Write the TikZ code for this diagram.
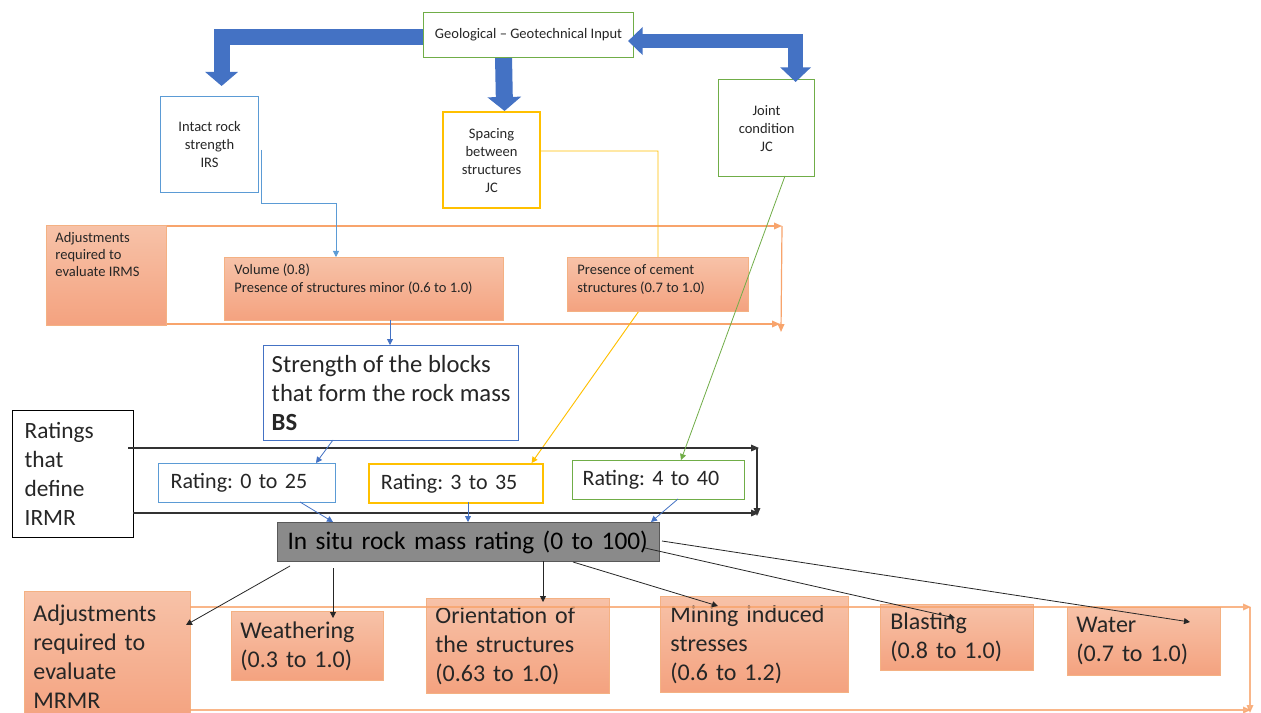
\documentclass[tikz,border=0pt]{standalone}
\usepackage{fontspec}
\setmainfont{Carlito}
\frenchspacing
\usetikzlibrary{arrows.meta,calc}
\definecolor{bigblue}{HTML}{4472C4}
\definecolor{lblue}{HTML}{5B9BD5}
\definecolor{dblue}{HTML}{4472C4}
\definecolor{yel}{HTML}{FFC000}
\definecolor{grn}{HTML}{70AD47}
\definecolor{orT}{HTML}{F7C2A8}
\definecolor{orB}{HTML}{F4A27F}
\definecolor{orL}{HTML}{F4B183}
\definecolor{orLine}{HTML}{F8A46C}
\definecolor{txt}{HTML}{262626}
\definecolor{grayF}{HTML}{8A8A8A}
\definecolor{grayD}{HTML}{595959}
\begin{document}
\begin{tikzpicture}[x=0.75pt,y=-0.75pt,
  nb/.style={anchor=north west, inner ysep=0pt, text=txt},
  small/.style={font=\fontsize{10.9}{13.5}\selectfont\frenchspacing},
  bigf/.style={font=\fontsize{#1}{21.75}\selectfont\frenchspacing},
  obox/.style={draw=orL, line width=0.6pt, top color=orT, bottom color=orB},
  tip/.style={-{Triangle[length=4.5pt,width=4.5pt]}},
  conn/.style={line width=0.6pt, tip},
  band/.style={line width=0.9pt, orLine, -{Triangle[length=6pt,width=5pt]}},
  kband/.style={line width=0.8pt, black!80, -{Triangle[length=6pt,width=5pt]}},
]
\useasboundingbox (0,0) rectangle (1261,713);
\clip (0,0) rectangle (1261,713);
\fill[white] (0,0) rectangle (1261,713);

% ---------- top boxes ----------
\node[nb, small, draw=grn, line width=0.8pt, minimum width=157.5pt, minimum height=33.75pt, align=center] (geo) at (423,12) {Geological -- Geotechnical Input};
\node[nb, small, draw=lblue, line width=0.9pt, minimum width=73.5pt, minimum height=72pt, align=center] (irs) at (160,96) {Intact rock\\strength\\IRS};
\node[nb, small, draw=yel, line width=1.6pt, minimum width=72.75pt, minimum height=72pt, align=center] (spc) at (442,111) {Spacing\\between\\structures\\JC};
\node[nb, small, draw=grn, line width=0.9pt, minimum width=72pt, minimum height=72.75pt, align=center] (joint) at (718,79) {Joint\\condition\\JC};

% ---------- big blue arrows ----------
\draw[bigblue, line width=12pt, -{Triangle[width=24pt,length=10.5pt]}]
  ($(geo.west)+(0,1.5)$) -| ($(irs.north)+(12,-10)$);
\draw[bigblue, line width=12.75pt, -{Triangle[width=24.75pt,length=10.5pt]}]
  ($(geo.south)+(-25,0)$) -- ($(spc.north)+(13,0)$);
\draw[bigblue, line width=11pt, {Triangle[width=20.5pt,length=11pt]}-{Triangle[width=22.5pt,length=11pt]}]
  ($(geo.east)+(-6,6)$) -| ($(joint.north)+(29,3)$);

% ---------- orange band (IRMS) ----------
\coordinate (ob1) at (46,226);
\coordinate (ob2) at (782,226);
\coordinate (ob3) at (46,324);
\coordinate (ob4) at (780,324);
\coordinate (ob5) at (781,332);
\draw[band] (ob1) -- (ob2);
\draw[band] (ob3) -- (ob4);
\draw[band] (ob2) -- (ob5);

% yellow connector (behind cement box)
\coordinate (y1) at (658,151);
\coordinate (y2) at (658,284);
\node[nb, draw=yel, line width=1.2pt, minimum width=130.5pt, minimum height=29.25pt, inner xsep=9pt, bigf=16.5, text width=112.5pt, align=left] (r2) at (368,463) {Rating: 3 to 35};
\draw[yel, line width=0.7pt, tip] (spc.east |- y1) -- (y1) -- (y2) -- ($(r2.north east)+(-12,0)$);

\node[nb, obox, inner xsep=6.75pt, inner ysep=5pt, small] (irms) at (46,225) {\fontsize{10.9}{12.75}\selectfont\parbox[c][65pt][t]{76.5pt}{\raggedright Adjustments\\required to\\evaluate IRMS}};
\node[nb, obox, inner xsep=7.5pt, inner ysep=5pt, small] (vol) at (224,257) {\parbox[c][37.25pt][t]{194.25pt}{\raggedright Volume (0.8)\\Presence of structures minor (0.6 to 1.0)}};
\node[nb, obox, inner xsep=7.5pt, inner ysep=5pt, small] (cem) at (567,257) {\parbox[c][30.5pt][t]{120.75pt}{\raggedright Presence of cement\\structures (0.7 to 1.0)}};

% IRS -> Volume
\coordinate (i1) at (261,150);
\coordinate (i2) at (336,203);
\draw[lblue, conn] (i1) |- (i2) -- (i2 |- vol.north);

% ---------- middle ----------
\node[nb, draw=dblue, line width=1pt, minimum width=191.25pt, minimum height=71.25pt, inner xsep=5pt, align=left, bigf=18.5] (bs) at (263,345) {Strength of the blocks\\that form the rock mass\\\textbf{BS}};
\coordinate (v1) at (390,320);
\draw[dblue, conn] (v1) -- (v1 |- bs.north);

\node[nb, draw=black, line width=1pt, minimum width=90.75pt, minimum height=95.25pt, inner xsep=9pt, text width=72.75pt, align=left, bigf=17.5] (rat) at (12,410) {Ratings\\that\\define\\IRMR};

% black band
\coordinate (k1) at (128,448);
\coordinate (k2) at (759,448);
\coordinate (k3) at (133,513);
\coordinate (k4) at (759,513);
\coordinate (k5) at (757,516);
\draw[kband] (k1) -- (k2);
\draw[kband] (k3) -- (k4);
\draw[kband] (757,448) -- (k5);

\node[nb, draw=lblue, line width=1pt, minimum width=132.75pt, minimum height=29.25pt, inner xsep=9pt, bigf=16.5, text width=114.75pt, align=left] (r1) at (158,463) {Rating: 0 to 25};
\node[nb, draw=grn, line width=1pt, minimum width=129pt, minimum height=29.25pt, inner xsep=7.5pt, bigf=16.5, text width=114pt, align=left] (r3) at (572,460) {Rating: 4 to 40};

% green connector
\coordinate (g1) at (785,176);
\coordinate (g2) at (681,460);
\draw[grn, line width=0.6pt, tip] (g1) -- (g2);

% BS -> r1
\coordinate (b1) at (333,440);
\coordinate (b2) at (316,463);
\draw[dblue, conn] (b1) -- (b2);

\node[nb, draw=grayD, line width=0.8pt, fill=grayF, minimum width=286.5pt, minimum height=29.25pt, inner xsep=7.5pt, bigf=19, text width=271.5pt, align=left, text=black] (ins) at (277,522) {In situ rock mass rating (0 to 100)};

\coordinate (a1) at (300,502);
\coordinate (a2) at (333,522);
\coordinate (a3) at (468,502);
\coordinate (a4) at (651,522);
\coordinate (a5) at (678,499);
\draw[dblue, conn] (a1) -- (a2);
\draw[dblue, conn] (a3) -- (a3 |- ins.north);
\draw[dblue, conn] (a5) -- (a4);

% ---------- bottom boxes ----------
\node[nb, obox, minimum width=124.5pt, minimum height=97.5pt, inner xsep=6.75pt, text width=111pt, align=left, bigf=18] (mrmr) at (24,591) {Adjustments\\required to\\evaluate\\MRMR};
\node[nb, obox, minimum width=114pt, minimum height=51.75pt, inner xsep=6.75pt, text width=100.5pt, align=left, bigf=18] (wea) at (231,611) {Weathering\\(0.3 to 1.0)};
\node[nb, obox, minimum width=137.25pt, minimum height=71.25pt, inner xsep=6.75pt, text width=123.75pt, align=left, bigf=18] (ori) at (426,598) {Orientation of\\the structures\\(0.63 to 1.0)};
\node[nb, obox, minimum width=141pt, minimum height=72pt, inner xsep=7.5pt, text width=126pt, align=left, bigf=18] (min) at (660,596) {Mining induced\\stresses\\(0.6 to 1.2)};
\node[nb, obox, minimum width=114.75pt, minimum height=49.5pt, inner xsep=7.5pt, text width=99.75pt, align=left, bigf=18] (bla) at (880,604) {Blasting\\(0.8 to 1.0)};
\node[nb, obox, minimum width=114.75pt, minimum height=51pt, inner xsep=6.75pt, text width=101.25pt, align=left, bigf=18] (wat) at (1067,607) {Water\\(0.7 to 1.0)};

% bottom orange band
\coordinate (c1) at (190,607);
\coordinate (c2) at (1251,607);
\coordinate (c3) at (190,710);
\coordinate (c4) at (1251,710);
\coordinate (c5) at (1250,713);
\draw[band, opacity=0.8] (c1) -- (c2);
\draw[band, opacity=0.8] (c3) -- (c4);
\draw[band, opacity=0.8] (1250,607) -- (c5);

% black connectors from in situ
\coordinate (s1) at (290,566);
\coordinate (t1) at (186,625);
\coordinate (s2) at (333,568);
\coordinate (t2) at (333,618);
\coordinate (s3) at (543,561);
\coordinate (t3) at (543,602);
\coordinate (s4) at (573,562);
\coordinate (t4) at (718,606);
\coordinate (s5) at (645,548);
\coordinate (t5) at (955,618);
\coordinate (s6) at (662,541);
\coordinate (t6) at (1190,622);
\draw[black!85, conn] (s1) -- (t1);
\draw[black!85, conn] (s2) -- (t2);
\draw[black!85, conn] (s3) -- (t3);
\draw[black!85, conn] (s4) -- (t4);
\draw[black!85, conn] (s5) -- (t5);
\draw[black!85, conn] (s6) -- (t6);
\end{tikzpicture}
\end{document}
